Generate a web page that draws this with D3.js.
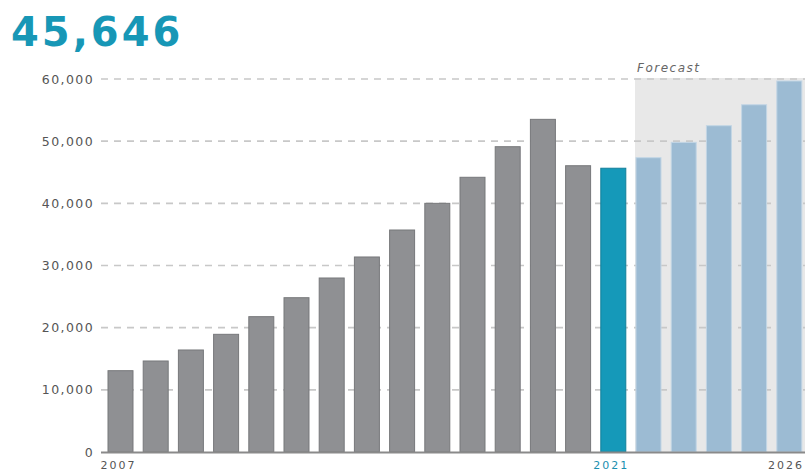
<!DOCTYPE html>
<html>
<head>
<meta charset="utf-8">
<script src="https://d3js.org/d3.v7.min.js"></script>
<style>
  body { margin: 0; background: #fff; }
  svg { display: block; font-family: "DejaVu Sans", Verdana, sans-serif; }
</style>
</head>
<body>
<div id="graph"></div>
<script>
// values
let years = [2007, 2008, 2009, 2010, 2011, 2012, 2013, 2014, 2015, 2016,
             2017, 2018, 2019, 2020, 2021, 2022, 2023, 2024, 2025, 2026];
let values = [13080, 14640, 16410, 18930, 21770, 24820, 27990, 31370, 35710, 40000,
              44190, 49110, 53510, 46050, 45646, 47340, 49810, 52490, 55860, 59680];
let yTicks = [0, 10000, 20000, 30000, 40000, 50000, 60000];
let xLabels = [2007, 2021, 2026];
let currentYear = 2021;
let headline = "45,646";

function graph() {

  let w = 805;
  let h = 471;
  let left = 108;
  let right = 801.8;
  let top = 79;
  let bottom = 452;

  const svg = d3.select("#graph")
                .append("svg")
                .attr("width", w)
                .attr("height", h);

  const xScale = d3.scaleBand()
                   .domain(years)
                   .range([left, right])
                   .paddingInner(0.29)
                   .paddingOuter(0);

  const yScale = d3.scaleLinear()
                   .domain([0, 60000])
                   .range([bottom, top]);

  // forecast shading
  let fx = xScale(currentYear + 1) - 1;
  svg.append("rect")
     .attr("x", fx)
     .attr("y", yScale(60000) - 1)
     .attr("width", w - fx)
     .attr("height", bottom - yScale(60000) + 1)
     .attr("fill", "#e8e8e8");

  svg.append("text")
     .attr("x", fx + 2)
     .attr("y", 72)
     .attr("font-size", 12)
     .attr("font-style", "italic")
     .attr("letter-spacing", 1.5)
     .attr("fill", "#666")
     .text("Forecast");

  // dashed grid
  svg.append("g")
     .selectAll("line")
     .data(yTicks.filter(d => d > 0))
     .enter()
     .append("line")
     .attr("x1", 101)
     .attr("x2", w)
     .attr("y1", d => yScale(d))
     .attr("y2", d => yScale(d))
     .attr("stroke", "#c8c8c8")
     .attr("stroke-width", 1.6)
     .attr("stroke-dasharray", "7,6");

  // bars
  svg.append("g")
     .selectAll("rect")
     .data(years)
     .enter()
     .append("rect")
     .attr("x", d => xScale(d))
     .attr("y", (d, i) => yScale(values[i]))
     .attr("width", xScale.bandwidth())
     .attr("height", (d, i) => bottom - yScale(values[i]))
     .attr("fill", d => d < currentYear ? "#8f9093" : (d == currentYear ? "#1599b9" : "#9cbbd3"))
     .attr("stroke", d => d < currentYear ? "#77787b" : (d == currentYear ? "#127f9a" : "#c3d6e5"))
     .attr("stroke-width", 1);

  // baseline
  svg.append("line")
     .attr("x1", 101)
     .attr("x2", w)
     .attr("y1", bottom + 0.5)
     .attr("y2", bottom + 0.5)
     .attr("stroke", "#8a8a8a")
     .attr("stroke-width", 2);

  // y labels
  svg.append("g")
     .selectAll("text")
     .data(yTicks)
     .enter()
     .append("text")
     .attr("x", 94)
     .attr("y", d => yScale(d))
     .attr("dy", "0.36em")
     .attr("text-anchor", "end")
     .attr("font-size", 12.5)
     .attr("letter-spacing", 1.4)
     .attr("fill", "#555")
     .text(d => d3.format(",")(d));

  // x labels (last one pinned to the right edge so it stays whole)
  svg.append("g")
     .selectAll("text")
     .data(xLabels)
     .enter()
     .append("text")
     .attr("x", d => d == years[years.length - 1] ? w - 1 : xScale(d) + xScale.bandwidth() / 2 - 2)
     .attr("y", 466)
     .attr("dy", "0.3em")
     .attr("text-anchor", d => d == years[years.length - 1] ? "end" : "middle")
     .attr("font-size", 11)
     .attr("letter-spacing", 2)
     .attr("fill", d => d == currentYear ? "#1a8fb0" : "#555")
     .text(d => d);

  // headline
  svg.append("text")
     .attr("x", 11)
     .attr("y", 46)
     .attr("font-size", 40)
     .attr("font-weight", "bold")
     .attr("letter-spacing", 3)
     .attr("fill", "#1797b6")
     .text(headline);

} //end of graph func

graph();
</script>
</body>
</html>
